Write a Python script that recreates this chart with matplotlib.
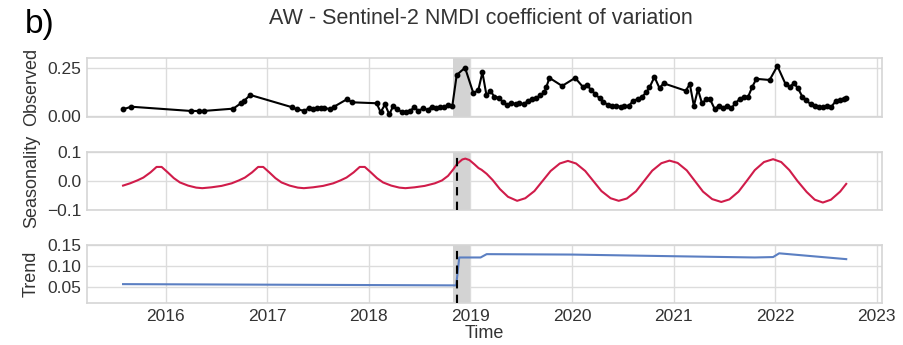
import matplotlib
matplotlib.use("Agg")
import matplotlib.pyplot as plt

# ---------------- data ----------------
obs_t = [2015.577, 2015.66, 2016.246, 2016.33, 2016.374, 2016.666, 2016.745, 2016.77, 2016.833,
         2017.246, 2017.29, 2017.366, 2017.409, 2017.453, 2017.493, 2017.526, 2017.562, 2017.618,
         2017.657, 2017.788, 2017.831, 2018.077, 2018.116, 2018.159, 2018.201, 2018.241, 2018.28,
         2018.323, 2018.366, 2018.405, 2018.448, 2018.487, 2018.537, 2018.58, 2018.619, 2018.661,
         2018.701, 2018.74, 2018.783, 2018.822, 2018.865, 2018.947, 2019.029, 2019.078, 2019.118,
         2019.158, 2019.197, 2019.236, 2019.279, 2019.318, 2019.358, 2019.40, 2019.449, 2019.483,
         2019.525, 2019.565, 2019.608, 2019.647, 2019.687, 2019.729, 2019.746, 2019.778, 2019.903,
         2020.031, 2020.106, 2020.146, 2020.189, 2020.231, 2020.271, 2020.31, 2020.353, 2020.392,
         2020.435, 2020.478, 2020.517, 2020.56, 2020.60, 2020.648, 2020.688, 2020.731, 2020.763,
         2020.812, 2020.862, 2020.901, 2021.12, 2021.16, 2021.20, 2021.24, 2021.28, 2021.322,
         2021.36, 2021.405, 2021.444, 2021.487, 2021.526, 2021.569, 2021.608, 2021.651, 2021.69,
         2021.733, 2021.772, 2021.815, 2021.946, 2022.022, 2022.103, 2022.143, 2022.186, 2022.225,
         2022.268, 2022.307, 2022.35, 2022.39, 2022.432, 2022.472, 2022.515, 2022.555, 2022.597,
         2022.636, 2022.676, 2022.70]
obs_v = [0.036, 0.050, 0.028, 0.028, 0.028, 0.040, 0.070, 0.080, 0.111,
         0.047, 0.036, 0.029, 0.042, 0.040, 0.045, 0.045, 0.045, 0.036,
         0.050, 0.090, 0.073, 0.068, 0.021, 0.062, 0.010, 0.055, 0.036,
         0.024, 0.024, 0.028, 0.047, 0.029, 0.042, 0.033, 0.050, 0.042,
         0.047, 0.047, 0.059, 0.055, 0.215, 0.253, 0.120, 0.137, 0.229,
         0.110, 0.132, 0.102, 0.097, 0.076, 0.059, 0.068, 0.065, 0.068,
         0.062, 0.080, 0.090, 0.094, 0.110, 0.125, 0.150, 0.200, 0.158,
         0.200, 0.154, 0.163, 0.137, 0.115, 0.094, 0.076, 0.059, 0.055,
         0.054, 0.050, 0.054, 0.054, 0.080, 0.090, 0.100, 0.125, 0.150,
         0.205, 0.146, 0.172, 0.133, 0.168, 0.054, 0.140, 0.068, 0.088,
         0.088, 0.038, 0.054, 0.042, 0.055, 0.042, 0.068, 0.090, 0.100,
         0.100, 0.150, 0.195, 0.189, 0.262, 0.167, 0.154, 0.172, 0.146,
         0.102, 0.085, 0.062, 0.054, 0.047, 0.047, 0.055, 0.050, 0.080,
         0.085, 0.090, 0.094]

seas_t = [2015.58, 2015.65, 2015.72, 2015.78, 2015.85, 2015.91, 2015.96,
          2016.02, 2016.08, 2016.14, 2016.22, 2016.30, 2016.36, 2016.45, 2016.55, 2016.65,
          2016.72, 2016.78, 2016.85, 2016.91, 2016.96,
          2017.02, 2017.08, 2017.14, 2017.22, 2017.30, 2017.36, 2017.45, 2017.55, 2017.65,
          2017.72, 2017.78, 2017.85, 2017.91, 2017.96,
          2018.02, 2018.08, 2018.14, 2018.22, 2018.30, 2018.36, 2018.45, 2018.55, 2018.65,
          2018.72, 2018.78, 2018.83, 2018.87, 2018.92, 2018.95, 2018.99,
          2019.04, 2019.08, 2019.11, 2019.16, 2019.22, 2019.29, 2019.37,
          2019.46, 2019.54, 2019.63, 2019.71, 2019.79, 2019.88, 2019.96,
          2020.04, 2020.13, 2020.21, 2020.29, 2020.38, 2020.46, 2020.54, 2020.63, 2020.71,
          2020.79, 2020.88, 2020.96, 2021.04, 2021.13, 2021.21, 2021.29, 2021.38, 2021.47,
          2021.55, 2021.64, 2021.72, 2021.80, 2021.89, 2021.98, 2022.06, 2022.14, 2022.22,
          2022.31, 2022.39, 2022.47, 2022.55, 2022.64, 2022.70]
seas_v = [-0.016, -0.008, 0.002, 0.012, 0.030, 0.049, 0.049,
          0.030, 0.010, -0.005, -0.016, -0.023, -0.025, -0.022, -0.017, -0.008,
          0.002, 0.012, 0.030, 0.049, 0.049,
          0.030, 0.010, -0.005, -0.016, -0.023, -0.025, -0.022, -0.017, -0.008,
          0.002, 0.012, 0.030, 0.049, 0.049,
          0.030, 0.010, -0.005, -0.016, -0.023, -0.025, -0.022, -0.017, -0.008,
          0.002, 0.018, 0.040, 0.060, 0.075, 0.078, 0.073,
          0.058, 0.045, 0.039, 0.025, 0.003, -0.028, -0.055,
          -0.069, -0.060, -0.035, 0.000, 0.035, 0.061, 0.070,
          0.061, 0.035, 0.000, -0.035, -0.060, -0.069, -0.061, -0.036, 0.000,
          0.036, 0.062, 0.071, 0.063, 0.037, 0.000, -0.037, -0.063, -0.073,
          -0.064, -0.037, 0.000, 0.038, 0.066, 0.076, 0.066, 0.038, 0.000,
          -0.038, -0.065, -0.075, -0.065, -0.037, -0.010]

trend_t = [2015.58, 2018.86, 2018.89, 2019.10, 2019.16, 2020.0, 2021.0, 2021.80, 2021.98, 2022.04, 2022.70]
trend_v = [0.057, 0.054, 0.121, 0.121, 0.129, 0.128, 0.124, 0.121, 0.122, 0.131, 0.117]

break_lo, break_hi, break_t = 2018.826, 2018.997, 2018.865
years = [2016, 2017, 2018, 2019, 2020, 2021, 2022, 2023]

# ---------------- figure ----------------
plt.rcParams['font.family'] = ['Liberation Sans', 'DejaVu Sans']
fig = plt.figure(figsize=(9.04, 3.45), dpi=100)

L, W = 0.0959, 0.8794
ax1 = fig.add_axes([L, 0.6617, W, 0.1711])
ax2 = fig.add_axes([L, 0.3913, W, 0.1681])
ax3 = fig.add_axes([L, 0.1209, W, 0.1690])

grid_c = '#dcdcdc'
for ax in (ax1, ax2, ax3):
    ax.set_xlim(2015.222, 2023.049)
    ax.set_xticks(years)
    ax.grid(True, color=grid_c, linewidth=1.0)
    ax.set_axisbelow(True)
    for s in ax.spines.values():
        s.set_color('#d5d5d5')
        s.set_linewidth(1.2)
    ax.tick_params(length=0, labelsize=12.5, colors='#333333', pad=4)
    ax.axvspan(break_lo, break_hi, color='#d3d3d3', zorder=1, lw=0)

ax1.tick_params(labelbottom=False)
ax2.tick_params(labelbottom=False)

ax1.plot(obs_t, obs_v, color='black', lw=1.5, marker='o', ms=3.2, zorder=3)
ax1.set_ylim(-0.002, 0.305)
ax1.set_yticks([0.0, 0.25])
ax1.set_yticklabels(['0.00', '0.25'])

ax2.plot(seas_t, seas_v, color='#d01c4a', lw=1.5, zorder=3)
ax2.axvline(break_t, color='black', ls=(0, (4, 3)), lw=1.5, zorder=4)
ax2.set_ylim(-0.101, 0.101)
ax2.set_yticks([-0.1, 0.0, 0.1])
ax2.set_yticklabels(['\u22120.1', '0.0', '0.1'])

ax3.plot(trend_t, trend_v, color='#5b7fc2', lw=1.5, zorder=3)
ax3.axvline(break_t, color='black', ls=(0, (4, 3)), lw=1.5, zorder=4)
ax3.set_ylim(0.011, 0.151)
ax3.set_yticks([0.05, 0.10, 0.15])
ax3.set_yticklabels(['0.05', '0.10', '0.15'])
ax3.set_xlabel('Time', fontsize=13, color='#333333', labelpad=1)

for ax, lab in ((ax1, 'Observed'), (ax2, 'Seasonality'), (ax3, 'Trend')):
    ax.set_ylabel(lab, fontsize=13, color='#333333')
    ax.yaxis.set_label_coords(-0.059, 0.5)

fig.text(0.532, 0.945, 'AW - Sentinel-2 NMDI coefficient of variation',
         ha='center', va='center', fontsize=15.5, color='#333333')
fig.text(0.027, 0.905, 'b)', fontsize=24, color='black', ha='left', va='baseline')

fig.savefig('out.png', dpi=100)
